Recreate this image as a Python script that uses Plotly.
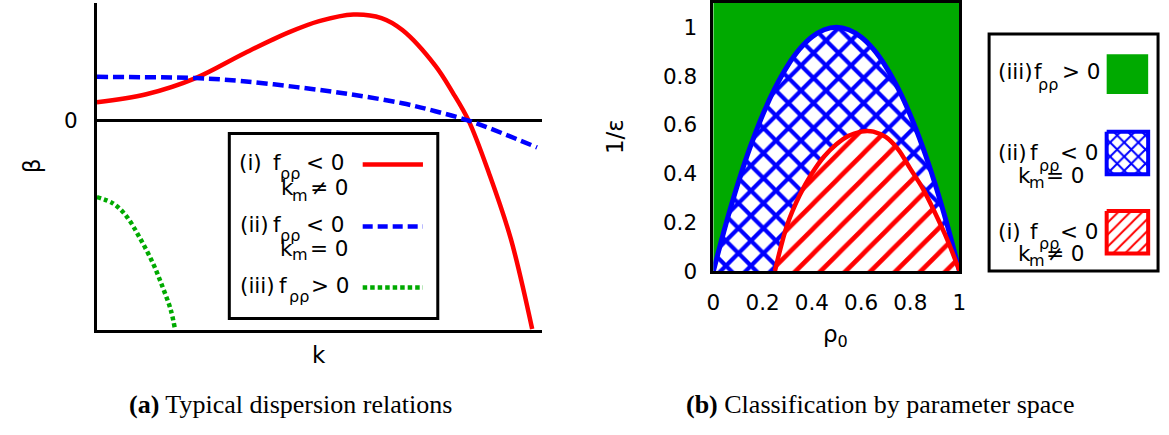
import plotly.graph_objects as go

W, H = 1169, 435
SANS = "DejaVu Sans, Liberation Sans, sans-serif"
SERIF = "Liberation Serif, DejaVu Serif, serif"
RED, BLUE, GREEN = "#FF0000", "#0000FF", "#00AA00"

# ---- (a) typical dispersion relations beta(k), arbitrary units ----
k_i = [0.0, 0.111, 0.222, 0.333, 0.43, 0.50, 0.577, 0.64, 0.687, 0.761, 0.80, 0.836, 0.883, 0.931, 0.979]
beta_i = [0.088, 0.126, 0.203, 0.323, 0.42, 0.475, 0.507, 0.49, 0.433, 0.263, 0.135, 0.0, -0.258, -0.565, -0.995]

k_ii = [0.0, 0.222, 0.322, 0.45, 0.569, 0.687, 0.761, 0.836, 0.909, 0.99]
beta_ii = [0.209, 0.203, 0.19, 0.16, 0.126, 0.083, 0.045, 0.0, -0.058, -0.128]

k_iii = [0.0, 0.037, 0.067, 0.096, 0.126, 0.148, 0.166, 0.176]
beta_iii = [-0.365, -0.396, -0.458, -0.558, -0.681, -0.796, -0.903, -1.0]

# ---- (b) regime boundaries in the (rho_0, 1/epsilon) plane ----
rho_ii = [0.0, 0.05, 0.10, 0.15, 0.20, 0.25, 0.30, 0.35, 0.40, 0.45, 0.50,
          0.55, 0.60, 0.65, 0.70, 0.75, 0.80, 0.85, 0.90, 0.95, 1.0]
inv_eps_ii = [0.0, 0.19, 0.36, 0.51, 0.64, 0.75, 0.84, 0.91, 0.96, 0.99, 1.0,
              0.99, 0.96, 0.91, 0.84, 0.75, 0.64, 0.51, 0.36, 0.19, 0.0]

rho_i = [0.25, 0.30, 0.35, 0.40, 0.45, 0.50, 0.55, 0.60, 0.625, 0.65,
         0.70, 0.75, 0.80, 0.85, 0.90, 0.95, 1.0]
inv_eps_i = [0.0, 0.19, 0.31, 0.40, 0.47, 0.52, 0.555, 0.572, 0.575, 0.572,
             0.55, 0.50, 0.42, 0.34, 0.24, 0.13, 0.0]

tick_vals = [0, 0.2, 0.4, 0.6, 0.8, 1]
tick_text = ["0", "0.2", "0.4", "0.6", "0.8", "1"]


def xdom(left, right):
    return [left / W, right / W]


def ydom(top, bottom):
    return [1 - bottom / H, 1 - top / H]


fig = go.Figure()

# panel (a) curves
fig.add_trace(go.Scatter(x=k_i, y=beta_i, mode="lines", xaxis="x", yaxis="y",
                         line=dict(color=RED, width=4.5, shape="spline")))
fig.add_trace(go.Scatter(x=k_ii, y=beta_ii, mode="lines", xaxis="x", yaxis="y",
                         line=dict(color=BLUE, width=4.5, shape="spline", dash="11px,5px")))
fig.add_trace(go.Scatter(x=k_iii, y=beta_iii, mode="lines", xaxis="x", yaxis="y",
                         line=dict(color=GREEN, width=4.5, shape="spline", dash="4px,3px")))

# panel (b) hatched regions
fig.add_trace(go.Scatter(
    x=rho_ii, y=inv_eps_ii, mode="lines", xaxis="x2", yaxis="y2", fill="tozeroy",
    line=dict(width=0, shape="spline"), fillcolor="white",
    fillpattern=dict(shape="x", size=17.7, solidity=0.42, fgcolor=BLUE,
                     bgcolor="white", fillmode="replace")))
fig.add_trace(go.Scatter(
    x=rho_i, y=inv_eps_i, mode="lines", xaxis="x2", yaxis="y2", fill="tozeroy",
    line=dict(width=0, shape="spline"), fillcolor="white",
    fillpattern=dict(shape="/", size=17.7, solidity=0.26, fgcolor=RED,
                     bgcolor="white", fillmode="replace")))
fig.add_trace(go.Scatter(x=rho_ii, y=inv_eps_ii, mode="lines", xaxis="x2", yaxis="y2",
                         line=dict(color=BLUE, width=5, shape="spline")))
fig.add_trace(go.Scatter(x=rho_i, y=inv_eps_i, mode="lines", xaxis="x2", yaxis="y2",
                         line=dict(color=RED, width=4.5, shape="spline")))

# legend keys drawn on a full-page pixel overlay (x3/y3)
fig.add_trace(go.Scatter(x=[360, 421], y=[169, 169], mode="lines", xaxis="x3", yaxis="y3",
                         line=dict(color=RED, width=4.5)))
fig.add_trace(go.Scatter(x=[360, 421], y=[233, 233], mode="lines", xaxis="x3", yaxis="y3",
                         line=dict(color=BLUE, width=4.5, dash="10px,5px")))
fig.add_trace(go.Scatter(x=[360, 421], y=[296, 296], mode="lines", xaxis="x3", yaxis="y3",
                         line=dict(color=GREEN, width=4.5, dash="4.5px,3px")))

fig.add_trace(go.Scatter(
    x=[1113, 1155, 1155, 1113, 1113], y=[135, 135, 179, 179, 135], mode="lines",
    xaxis="x3", yaxis="y3", fill="toself", fillcolor="white",
    line=dict(color=BLUE, width=4),
    fillpattern=dict(shape="x", size=10, solidity=0.36, fgcolor=BLUE,
                     bgcolor="white", fillmode="replace")))
fig.add_trace(go.Scatter(
    x=[1113, 1155, 1155, 1113, 1113], y=[217, 217, 261, 261, 217], mode="lines",
    xaxis="x3", yaxis="y3", fill="toself", fillcolor="white",
    line=dict(color=RED, width=4),
    fillpattern=dict(shape="/", size=8.5, solidity=0.235, fgcolor=RED,
                     bgcolor="white", fillmode="replace")))

shapes = [
    # green background of panel (b)
    dict(type="rect", xref="x2 domain", yref="y2 domain", x0=0, x1=1, y0=0, y1=1,
         fillcolor=GREEN, line=dict(width=0), layer="below"),
    # legend frames
    dict(type="rect", xref="x3", yref="y3", x0=225, x1=436, y0=137, y1=328,
         line=dict(color="black", width=3), fillcolor="rgba(0,0,0,0)"),
    dict(type="rect", xref="x3", yref="y3", x0=994, x1=1165, y0=34, y1=279,
         line=dict(color="black", width=3), fillcolor="rgba(0,0,0,0)"),
    # green key
    dict(type="rect", xref="x3", yref="y3", x0=1113, x1=1155, y0=55, y1=96,
         fillcolor=GREEN, line=dict(width=0)),
]


def label(x, y, text, size=21.5, xanchor="left", family=SANS, angle=0):
    return dict(x=x, y=y, xref="x3", yref="y3", text=text, showarrow=False,
                xanchor=xanchor, yanchor="middle", textangle=angle,
                font=dict(family=family, size=size, color="black"))


SUB = 16
annotations = [
    # axis titles
    label(25, 170, "β", 23, xanchor="center", angle=-90),
    label(316, 366, "k", 23, xanchor="center"),
    label(616, 140, "1/ε", 23, xanchor="center", angle=-90),
    label(839, 346, "ρ<sub>0</sub>", 23, xanchor="center"),
    # legend (a)
    label(233, 167, "(i)"), label(267, 167, "f"), label(274, 178, "ρρ", SUB), label(301, 167, "< 0"),
    label(275, 193, "k"), label(286, 201, "m", SUB), label(305, 193, "≠ 0"),
    label(234, 231, "(ii)"), label(267, 231, "f"), label(274, 242, "ρρ", SUB), label(301, 231, "< 0"),
    label(274, 256, "k"), label(286, 262, "m", SUB), label(305, 256, "= 0"),
    label(234, 294, "(iii)"), label(273, 294, "f"), label(283, 305, "ρρ", SUB), label(306, 294, "> 0"),
    # legend (b)
    label(1001, 73, "(iii)"), label(1037, 73, "f"), label(1041, 86, "ρρ", SUB), label(1066, 73, "> 0"),
    label(1001, 157, "(ii)"), label(1033, 157, "f"), label(1042, 170, "ρρ", SUB), label(1064, 157, "< 0"),
    label(1021, 180, "k"), label(1032, 188, "m", SUB), label(1050, 180, "= 0"),
    label(1001, 238, "(i)"), label(1033, 238, "f"), label(1042, 251, "ρρ", SUB), label(1064, 238, "< 0"),
    label(1021, 261, "k"), label(1032, 268, "m", SUB), label(1050, 261, "≠ 0"),
    # captions
    label(287, 417, "<b>(a)</b> Typical dispersion relations", 26, "center", SERIF),
    label(884, 417, "<b>(b)</b> Classification by parameter space", 26, "center", SERIF),
]

axis_font = dict(family=SANS, size=21.5, color="black")

fig.update_layout(
    width=W, height=H, margin=dict(l=0, r=0, t=0, b=0),
    paper_bgcolor="white", plot_bgcolor="rgba(0,0,0,0)",
    showlegend=False, shapes=shapes, annotations=annotations,
    xaxis=dict(domain=xdom(91, 541), range=[0, 1], showgrid=False, zeroline=False,
               showline=True, linecolor="black", linewidth=3, showticklabels=False,
               ticks="", anchor="y"),
    yaxis=dict(domain=ydom(2, 340), range=[-1, 0.562], showgrid=False, zeroline=True,
               zerolinecolor="black", zerolinewidth=3, showline=True, linecolor="black",
               linewidth=3, tickvals=[0], ticktext=["0"], ticks="", tickfont=axis_font,
               ticklabelstandoff=12, anchor="x"),
    xaxis2=dict(domain=xdom(715, 964), range=[0, 1], showgrid=False, zeroline=False,
                showline=True, mirror=True, linecolor="black", linewidth=3,
                tickvals=tick_vals, ticktext=tick_text, ticks="", tickfont=axis_font,
                ticklabelstandoff=10, anchor="y2"),
    yaxis2=dict(domain=ydom(2, 279), range=[0, 1.1], showgrid=False, zeroline=False,
                showline=True, mirror=True, linecolor="black", linewidth=3,
                tickvals=tick_vals, ticktext=tick_text, ticks="", tickfont=axis_font,
                ticklabelstandoff=9, anchor="x2"),
    xaxis3=dict(domain=[0, 1], range=[0, W], visible=False, anchor="y3", fixedrange=True),
    yaxis3=dict(domain=[0, 1], range=[H, 0], visible=False, anchor="x3", fixedrange=True),
)

fig.write_html("out.html")
